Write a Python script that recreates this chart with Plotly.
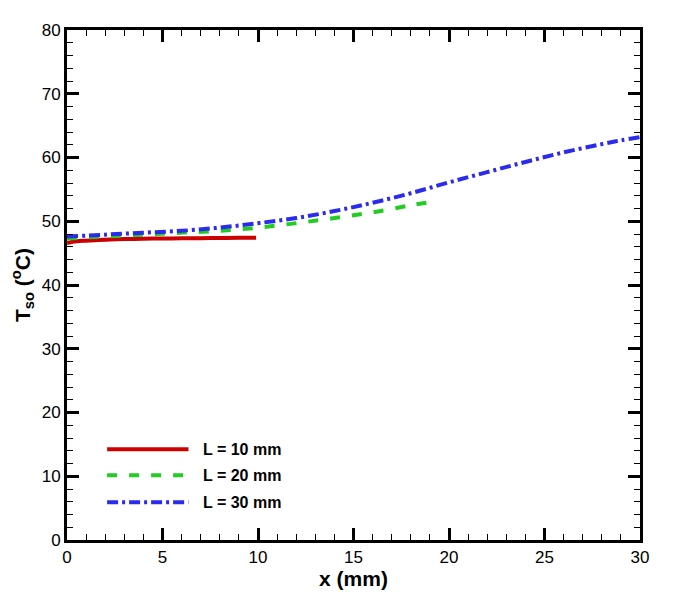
import plotly.graph_objects as go

# L = 10 mm
x10 = [0, 0.5, 1, 2, 3, 4, 5, 6, 7, 8, 9, 9.9]
y10 = [46.6, 46.85, 46.95, 47.1, 47.2, 47.25, 47.3, 47.32, 47.35, 47.37, 47.4, 47.4]
# L = 20 mm
x20 = [0, 2, 4, 6, 8, 10, 12, 14, 16, 18, 19.4]
y20 = [47.3, 47.6, 47.9, 48.2, 48.5, 49.0, 49.7, 50.5, 51.4, 52.5, 53.2]
# L = 30 mm
x30 = [0, 2, 4, 6, 8, 10, 12, 14, 16, 18, 20, 22, 24, 26, 28, 29, 30]
y30 = [47.6, 47.9, 48.2, 48.5, 49.0, 49.7, 50.5, 51.6, 52.9, 54.4, 56.1, 57.7, 59.3, 60.8, 62.1, 62.7, 63.2]

names = ["L = 10 mm", "L = 20 mm", "L = 30 mm"]
colors = ["#cc0000", "#22cc22", "#2b2bee"]
dashes = ["solid", "10px,12px", "11px,4px,3px,4px"]

FONT = "Liberation Sans, Arial, sans-serif"

fig = go.Figure()
for xs, ys, n, c, d in zip([x10, x20, x30], [y10, y20, y30], names, colors, dashes):
    fig.add_trace(go.Scatter(x=xs, y=ys, mode="lines", name=n, showlegend=False,
                             line=dict(color=c, width=4, dash=d, shape="spline")))

# manual legend (long line samples like the reference)
leg_y = [0.178, 0.127, 0.074]
for n, c, d, ly in zip(names, colors, dashes, leg_y):
    fig.add_shape(type="line", xref="paper", yref="paper", x0=0.070, x1=0.212, y0=ly, y1=ly,
                  line=dict(color=c, width=4, dash=d))
    fig.add_annotation(xref="paper", yref="paper", x=0.234, y=ly, text="<b>%s</b>" % n,
                       showarrow=False, xanchor="left", yanchor="middle",
                       font=dict(family=FONT, size=16, color="black"))

fig.update_xaxes(range=[0, 30], tick0=0, dtick=5,
                 showline=True, linecolor="black", linewidth=3, mirror="allticks",
                 ticks="inside", ticklen=12, tickwidth=2.5, tickcolor="black",
                 showgrid=False, zeroline=False, automargin=False,
                 tickfont=dict(family=FONT, size=17, color="black"),
                 minor=dict(ticks="inside", ticklen=6, tickwidth=1.3, tickcolor="black", dtick=1, showgrid=False),
                 title=dict(text="<b>x (mm)</b>", font=dict(family=FONT, size=21, color="black"), standoff=5))
fig.update_yaxes(range=[0, 80], tick0=0, dtick=10,
                 showline=True, linecolor="black", linewidth=3, mirror="allticks",
                 ticks="inside", ticklen=12, tickwidth=2.5, tickcolor="black",
                 showgrid=False, zeroline=False, automargin=False,
                 tickfont=dict(family=FONT, size=17, color="black"),
                 minor=dict(ticks="inside", ticklen=6, tickwidth=1.3, tickcolor="black", dtick=2, showgrid=False),
                 title=dict(text="<b>T<sub>so</sub> (<sup>o</sup>C)</b>", font=dict(family=FONT, size=21, color="black"), standoff=15))

fig.update_layout(width=675, height=600, plot_bgcolor="white", paper_bgcolor="white",
                  margin=dict(l=59, r=43, t=22, b=68), showlegend=False)

fig.write_html("out.html")
